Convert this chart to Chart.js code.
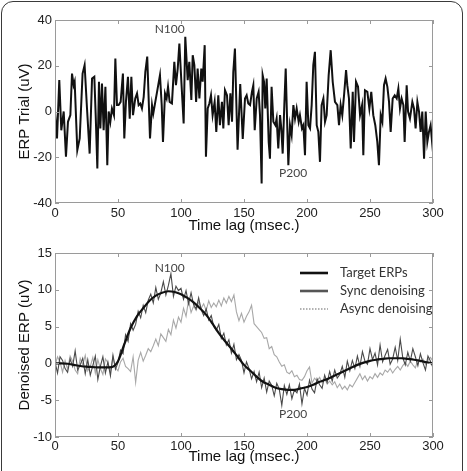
<!DOCTYPE html>
<html>
<head>
<meta charset="utf-8">
<script src="https://cdn.jsdelivr.net/npm/chart.js@4.4.1/dist/chart.umd.min.js"></script>
<style>
  html, body { margin: 0; padding: 0; background: #fff; overflow: hidden; }
  body { width: 467px; height: 471px; position: relative; }
  #frame { position: absolute; left: 1px; top: 1px; width: 462px; height: 500px; border: 1.5px solid #3a3a3a; border-radius: 12px; box-sizing: border-box; }
  canvas { position: absolute; left: 0; }
  #trial { top: 0; }
  #denoised { top: 235px; }
</style>
</head>
<body>
<div id="frame"></div>
<canvas id="trial" width="467" height="235"></canvas>
<canvas id="denoised" width="467" height="236"></canvas>
<script>
  // single ERP trial (msec., uV)
  var trialTime = [
    0, 1.6, 3.4, 5, 6.9, 8.7, 10.3, 12.2, 13.5, 14.8,
    15.6, 17.7, 19.6, 21.9, 23.5, 25.4, 27.5, 29.4, 31.2, 32.3,
    33.6, 34.9, 36, 37.3, 38.6, 40, 41.5, 42.6, 43.9, 45.2,
    46.8, 47.9, 49.2, 50.5, 52.1, 53.9, 55, 56.3, 57.9, 59.3,
    60.6, 61.9, 63.7, 65.1, 66.4, 67.7, 69, 70.4, 71.7, 73.2,
    75.4, 77, 78, 79.6, 81, 83.3, 84.7, 85.7, 87.3, 88.6,
    89.7, 91, 92.8, 94.7, 96, 97.4, 98.7, 100.3, 102.1, 103.4,
    105.3, 106.6, 108.2, 109.3, 110.6, 112, 113.2, 114.6, 116.1, 117.2,
    118.8, 119.8, 121.2, 122.5, 123.8, 125.1, 126.7, 128, 129.6, 130.9,
    132.5, 133.6, 134.9, 136.5, 137.8, 139.2, 140.5, 141.5, 142.8, 144.9,
    147, 149, 150.8, 152.1, 153.4, 154.8, 156.3, 157.4, 158.5, 160.1,
    161.6, 162.7, 164, 164.8, 165.9, 166.9, 168, 169.6, 170.6, 171.9,
    173.3, 174.9, 175.9, 177.2, 178.6, 179.6, 180.7, 182, 183.1, 184.1,
    185.2, 186.5, 187.8, 189.2, 190.5, 191.8, 193.4, 194.4, 196, 197.1,
    198.4, 199.7, 201.1, 202.4, 203.7, 205, 206.3, 207.7, 209, 210.3,
    211.6, 213, 214.3, 215.6, 217.2, 218.8, 220.4, 222.2, 224.1, 225.4,
    226.7, 228, 229.4, 231, 232, 233.3, 234.7, 236.3, 237.3, 238.9,
    240.5, 242.1, 243.7, 244.7, 246, 247.9, 249.5, 251, 252.6, 254.2,
    255.8, 257.1, 258.5, 259.8, 261.1, 262.4, 263.8, 265.1, 266.4, 268,
    269.6, 271.2, 272.5, 273.8, 275.1, 276.5, 277.5, 279.1, 280.2, 281.7,
    283.6, 284.9, 286.2, 287.6, 288.9, 290.2, 291.5, 292.9, 294.2, 295.5,
    296.8, 298.1, 299.5, 300
  ];
  var trialUv = [
    0, -11.8, 13.7, -8.2, 0, -19.8, -4.5, -1.6, 16.6, 11.5,
    13, -16.9, -11.8, 16.6, 20.3, 1.3, -18.4, 14.4, 15.2, -1.6,
    -24.9, 13, -7.4, 12.2, -8.2, 10.8, -23.5, 0, -4.5, 1.3,
    -1.6, 23.2, 2.8, 2.8, 4.2, 16.6, -11.8, 4.2, 15.2, -3.1,
    15.2, -1.6, 5.7, 7.9, 2.8, 3.5, 1.3, 6.4, 17.3, 24,
    -11.8, 2.8, -0.9, 4.2, 8.6, 15.9, 2.8, -13.3, 7.9, 5.7,
    10.8, 4.2, 3.5, 21.7, 11.5, 18.8, 29.7, 13, -5.2, 32.7,
    13.7, 21.7, 5, 24.6, 20.3, 4.2, 18.8, 5.7, 18.8, 13,
    29, -19.8, 1.3, 3.5, 7.1, -1.6, 4.2, -8.9, 7.1, -6,
    4.2, -7.4, 9.3, 7.1, -6, 7.9, -4.5, 17.3, 27.5, -16.7,
    12, -12, 5.7, 7.1, 3.5, 2.8, 8.6, 11.5, -8.2, 5.7,
    8.6, -1.6, -31.5, 15.9, 13, 1.3, 14.4, -13.3, -20.6, 10.8,
    -4.5, -6, -3.1, -16.2, -1.6, -7.4, -18.4, 2.8, 18.8, -1.6,
    -23.5, -6, -10.3, 2.8, -3.1, 1.3, -4.5, -1.6, -7.4, -6,
    -19.1, 13, -6, -7.4, 2.8, 20.3, 26.1, -6, -8.9, -22,
    2.8, 5.7, -4.5, -1.6, 15.9, 26.8, 13, 4.2, 2.8, -6,
    2.8, -1.6, 7.1, 18.1, 11.5, 5.7, -16.2, 8.6, -13.3, 13,
    10.8, -1.6, 2.8, -19.1, 9.3, 8.6, 1.3, 8.6, -1.6, -6,
    -13.3, -23.5, -1.6, -4.5, 11.5, 14.4, 10.8, 4.2, -8.9, 5.7,
    7.1, 5.7, 10, 1.3, 5.7, 2.8, -13.3, 11.5, 0, -3.1,
    4.2, 1.3, -7.4, 4.2, 0, -8.9, 0, -20.6, 0, -13.3,
    -8.9, -6, -14.7, -13
  ];

  // target ERP, every 5 msec.
  var targetTime = [
    0, 5, 10, 15, 20, 25, 30, 35, 40, 45,
    50, 55, 60, 65, 70, 75, 80, 85, 90, 95,
    100, 105, 110, 115, 120, 125, 130, 135, 140, 145,
    150, 155, 160, 165, 170, 175, 180, 185, 190, 195,
    200, 205, 210, 215, 220, 225, 230, 235, 240, 245,
    250, 255, 260, 265, 270, 275, 280, 285, 290, 295,
    300
  ];
  var targetUv = [
    0, 0, -0.05, -0.2, -0.35, -0.45, -0.5, -0.55, -0.55, -0.5,
    0.3, 2.6, 4.8, 6.4, 7.5, 8.5, 9.2, 9.6, 9.8, 9.7,
    9.4, 8.9, 8.3, 7.5, 6.6, 5.4, 4.1, 3.0, 2.0, 0.9,
    -0.2, -1.0, -1.8, -2.5, -2.9, -3.3, -3.5, -3.6, -3.6, -3.4,
    -3.2, -2.9, -2.5, -2.2, -1.8, -1.4, -1.0, -0.6, -0.2, 0.1,
    0.35, 0.5, 0.6, 0.7, 0.7, 0.7, 0.6, 0.5, 0.35, 0.15,
    0
  ];

  // denoised estimates, every 2 msec.
  var denoisedTime = [];
  for (var t = 0; t <= 300; t += 2) denoisedTime.push(t);
  var syncUv = [
    0.2, -1.3, 0.9, 0.4, -0.7, -1.2, 0.6, -0.4, 1.7, -0.9,
    -0.2, 0.7, -1.4, 0.5, -1.6, -0.3, 1.0, -2.2, -0.4, 0.9,
    -1.3, 0.2, -1.7, 1.1, -0.8, 0.1, 1.8, 1.3, 3.9, 3.0,
    5.4, 4.5, 5.3, 7.1, 6.2, 7.9, 6.9, 8.6, 9.4, 8.2,
    10.3, 8.7, 9.6, 11.1, 9.3, 10.6, 12.2, 9.1, 10.5, 9.9,
    10.2, 8.7, 9.9, 8.1, 9.6, 8.0, 7.4, 8.9, 7.3, 6.5,
    7.4, 5.9, 6.5, 5.0, 4.5, 5.3, 3.4, 4.1, 2.5, 3.2,
    1.4, 2.6, 0.5, 1.2, 0.4, -1.3, 0.2, -0.7, -2.1, -1.1,
    -2.5, -1.2, -3.3, -2.0, -3.9, -2.4, -3.0, -4.4, -2.7, -3.5,
    -5.7, -3.0, -4.2, -2.9, -4.8, -3.6, -4.0, -2.8, -5.5, -3.4,
    -4.3, -2.3, -3.5, -4.0, -2.1, -2.9, -3.4, -1.6, -2.6, -1.1,
    -2.4, -0.9, -2.0, -1.5, -0.4, -1.9, 0.3, -1.0, 0.4, -0.7,
    1.0, -0.4, 1.6, 0.3, -0.1, 2.0, 0.5, 1.4, -0.2, 2.5,
    0.2, 1.1, 1.9, -0.1, 0.6, 2.2, 0.4, 3.3, 0.8, -0.2,
    1.5, 0.3, 2.0, 0.9, -0.3, 1.3, 0.1, -0.9, 1.0, 0.3,
    -0.6
  ];
  var asyncUv = [
    -0.3, 0.9, 0.2, -1.2, 0.4, -0.8, 1.0, 0.3, -0.9, -1.4,
    0.7, -0.2, 1.1, -1.0, -0.4, 0.8, -1.3, 0.5, -0.7, -1.5,
    0.6, 0.1, -1.2, 0.9, -0.6, -1.0, 0.2, 0.7, -0.4, -0.7,
    -1.1, 0.9, -2.6, 0.4, 1.5, 0.3, 1.1, 2.0, 1.6, 2.4,
    3.3, 2.4, 4.0, 3.5, 3.0, 4.6, 3.9, 5.9, 4.8, 6.3,
    5.6, 7.5, 6.4, 8.6, 6.9, 7.8, 7.2, 8.3, 7.5, 8.1,
    7.2, 8.5, 7.6, 8.2, 7.7, 8.6, 7.8, 8.9, 8.2, 9.1,
    8.4, 9.3, 7.0, 5.8, 6.8, 5.6, 6.4, 7.0, 7.9, 5.4,
    5.0, 4.6, 4.2, 3.4, 3.5, 2.0, 2.3, 1.2, 0.9, 0.2,
    -0.4, -0.2, -1.2, -1.4, -1.0, -1.8, -1.6, -2.2, -2.3, -1.8,
    -1.0, -0.5, -2.7, -2.0, -2.4, -1.9, -2.6, -2.1, -2.8, -2.4,
    -2.9, -2.5, -3.3, -2.8, -3.5, -3.1, -3.6, -2.9, -3.2, -2.6,
    -2.0, -1.4, -2.2, -1.7, -2.4, -1.8, -2.1, -1.4, -1.9, -1.3,
    -1.6, -0.9, -1.2, -0.7, -1.3, -0.8, -0.4, -0.9, -0.3, 0.1,
    -0.4, 0.3, -0.2, -0.6, 0.5, 0.2, 0.6, -0.1, 0.4, 0.8,
    0.3
  ];

  var seriesNames = ['Target ERPs', 'Sync denoising', 'Async denoising'];
  var trialPeaks = [{ text: 'N100', x: 91, y: 35.8 }, { text: 'P200', x: 189, y: -27 }];
  var denoisedPeaks = [{ text: 'N100', x: 91, y: 13 }, { text: 'P200', x: 189, y: -6.9 }];

  var tickFont = { family: "'Liberation Sans'", size: 13 };
  var titleFont = { family: "'Liberation Sans'", size: 15 };
  var noteFont = '12px Lato';

  function toPoints(xs, ys) {
    return xs.map(function (x, i) { return { x: x, y: ys[i] }; });
  }

  // matlab style box with inward ticks on every side
  var axesBox = {
    id: 'axesBox',
    afterDatasetsDraw: function (chart) {
      var a = chart.chartArea, ctx = chart.ctx;
      var xs = chart.scales.x, ys = chart.scales.y;
      ctx.save();
      ctx.strokeStyle = '#9a9a9a';
      ctx.lineWidth = 1;
      ctx.strokeRect(a.left + 0.5, a.top + 0.5, a.right - a.left - 1, a.bottom - a.top - 1);
      ctx.beginPath();
      xs.ticks.forEach(function (tk) {
        var px = Math.round(xs.getPixelForValue(tk.value)) + 0.5;
        ctx.moveTo(px, a.bottom); ctx.lineTo(px, a.bottom - 4);
        ctx.moveTo(px, a.top); ctx.lineTo(px, a.top + 4);
      });
      ys.ticks.forEach(function (tk) {
        var py = Math.round(ys.getPixelForValue(tk.value)) + 0.5;
        ctx.moveTo(a.left, py); ctx.lineTo(a.left + 4, py);
        ctx.moveTo(a.right, py); ctx.lineTo(a.right - 4, py);
      });
      ctx.stroke();
      ctx.restore();
    }
  };

  var peakNotes = {
    id: 'peakNotes',
    afterDatasetsDraw: function (chart, args, opts) {
      var ctx = chart.ctx;
      ctx.save();
      ctx.font = noteFont;
      ctx.fillStyle = '#444';
      ctx.textAlign = 'center';
      ctx.textBaseline = 'middle';
      (opts.items || []).forEach(function (n) {
        ctx.fillText(n.text, chart.scales.x.getPixelForValue(n.x), chart.scales.y.getPixelForValue(n.y));
      });
      ctx.restore();
    }
  };

  var insideLegend = {
    id: 'insideLegend',
    afterDraw: function (chart, args, opts) {
      if (!opts.show) return;
      var a = chart.chartArea, ctx = chart.ctx;
      ctx.save();
      chart.data.datasets.forEach(function (ds, i) {
        var y = a.top + 20 + i * 18;
        ctx.beginPath();
        ctx.strokeStyle = ds.legendColor;
        ctx.lineWidth = ds.legendWidth;
        ctx.setLineDash(ds.legendDash || []);
        ctx.moveTo(a.left + 245, y);
        ctx.lineTo(a.left + 273, y);
        ctx.stroke();
        ctx.setLineDash([]);
        ctx.font = '13px Lato';
        ctx.fillStyle = '#333';
        ctx.textBaseline = 'middle';
        ctx.fillText(ds.label, a.left + 285, y);
      });
      ctx.restore();
    }
  };

  function xAxis(tickPad, titlePad, height) {
    return {
      type: 'linear', min: 0, max: 300,
      grid: { display: false, drawTicks: false },
      border: { display: false },
      ticks: { stepSize: 50, padding: tickPad, color: '#222', font: tickFont, maxRotation: 0, autoSkip: false },
      title: { display: true, text: 'Time lag (msec.)', color: '#111', font: titleFont, padding: { top: 0, bottom: titlePad } },
      afterFit: function (s) { s.height = height; }
    };
  }

  function yAxis(min, max, step, text) {
    return {
      type: 'linear', min: min, max: max,
      grid: { display: false, drawTicks: false },
      border: { display: false },
      ticks: { stepSize: step, padding: 3, color: '#222', font: tickFont },
      title: { display: true, text: text, color: '#111', font: titleFont, padding: { top: 16, bottom: 0 } },
      afterFit: function (s) { s.width = 55; }
    };
  }

  new Chart(document.getElementById('trial'), {
    type: 'line',
    data: {
      datasets: [{
        data: toPoints(trialTime, trialUv),
        borderColor: '#111',
        borderWidth: 2,
        pointRadius: 0,
        tension: 0
      }]
    },
    options: {
      responsive: false,
      animation: false,
      parsing: false,
      layout: { padding: { left: 0, right: 34, top: 20, bottom: 0 } },
      scales: { x: xAxis(3, 0, 32), y: yAxis(-40, 40, 20, 'ERP Trial (uV)') },
      plugins: { legend: { display: false }, tooltip: { enabled: false }, peakNotes: { items: trialPeaks } }
    },
    plugins: [axesBox, peakNotes]
  });

  new Chart(document.getElementById('denoised'), {
    type: 'line',
    data: {
      datasets: [{
        label: seriesNames[0],
        data: toPoints(targetTime, targetUv),
        borderColor: '#111',
        borderWidth: 2.2,
        pointRadius: 0,
        cubicInterpolationMode: 'monotone',
        legendColor: '#111', legendWidth: 2.6
      }, {
        label: seriesNames[1],
        data: toPoints(denoisedTime, syncUv),
        borderColor: '#4a4a4a',
        borderWidth: 1.1,
        pointRadius: 0,
        tension: 0,
        legendColor: '#555', legendWidth: 2.6
      }, {
        label: seriesNames[2],
        data: toPoints(denoisedTime, asyncUv),
        borderColor: '#a8a8a8',
        borderWidth: 1.1,
        pointRadius: 0,
        tension: 0,
        legendColor: '#999', legendWidth: 1.4, legendDash: [1.5, 1.5]
      }]
    },
    options: {
      responsive: false,
      animation: false,
      parsing: false,
      layout: { padding: { left: 0, right: 34, top: 18, bottom: 0 } },
      scales: { x: xAxis(2, 5, 34), y: yAxis(-10, 15, 5, 'Denoised ERP (uV)') },
      plugins: {
        legend: { display: false }, tooltip: { enabled: false },
        peakNotes: { items: denoisedPeaks },
        insideLegend: { show: true }
      }
    },
    plugins: [axesBox, peakNotes, insideLegend]
  });
</script>
</body>
</html>
